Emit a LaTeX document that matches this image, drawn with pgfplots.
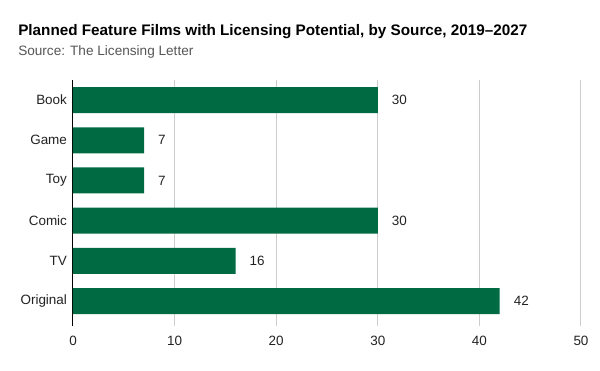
\documentclass[border=0pt]{standalone}
\usepackage{pgfplots}
\pgfplotsset{compat=1.18}
\usepackage{fontspec}
\setmainfont{Liberation Sans}
\definecolor{bargreen}{HTML}{006B42}
\definecolor{gridgray}{HTML}{CCCCCC}
\definecolor{subgray}{HTML}{555555}
\definecolor{labdark}{HTML}{222222}
\begin{document}
\begin{tikzpicture}
\useasboundingbox (0pt,0pt) rectangle (450pt,278.25pt);
\node[anchor=base west,inner sep=0pt,font=\bfseries\fontsize{11.45pt}{14pt}\selectfont] at (13.5pt,251.25pt) {Planned Feature Films with Licensing Potential, by Source, 2019–2027};
\node[anchor=base west,inner sep=0pt,text=subgray,font=\fontsize{10.2pt}{12pt}\selectfont] at (13.5pt,236.25pt) {Source: The Licensing Letter};
\begin{axis}[
  at={(54.75pt,33.75pt)}, anchor=south west,
  scale only axis, width=381pt, height=184.5pt,
  xbar, bar width=19.5pt,
  xmin=0, xmax=50, ymin=-0.5, ymax=5.62, y dir=reverse,
  xtick={0,10,20,30,40,50},
  ytick={0,1,2,3,4,5},
  yticklabels={Book,Game,Toy,Comic,TV,Original},
  xmajorgrids, major grid style={gridgray, line width=0.75pt},
  axis x line*=bottom,
  axis y line*=left,
  x axis line style={draw=none},
  y axis line style={black, line width=0.75pt, -},
  major tick length=0pt,
  tick label style={font=\fontsize{10.1pt}{11pt}\selectfont, text=labdark},
  /pgf/number format/assume math mode=true,
  xticklabel style={yshift=-4pt},
  yticklabel style={xshift=-1pt},
  nodes near coords,
  every node near coord/.append style={font=\fontsize{10.1pt}{11pt}\selectfont, text=labdark, anchor=west, xshift=7pt},
  clip=false,
]
\addplot[fill=bargreen, draw=none] coordinates {(30,0) (7,1) (7,2) (30,3) (16,4) (42,5)};
\end{axis}
\end{tikzpicture}
\end{document}
